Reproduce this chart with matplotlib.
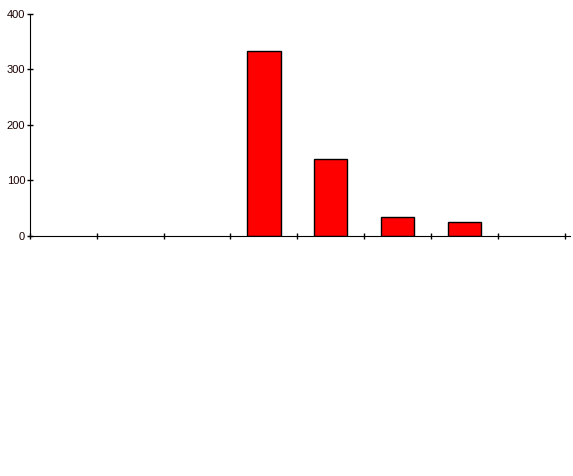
import matplotlib.pyplot as plt
import numpy as np

# eight categories, no labels shown on the x axis
categories = np.arange(8)
counts = [0, 0, 0, 332, 138, 34, 25, 0]
y_ticks = [0, 100, 200, 300, 400]

W, H = 573, 476
fig = plt.figure(figsize=(W / 100, H / 100), dpi=100)
ax = fig.add_axes([30 / W, (H - 236) / H, 540 / W, (236 - 13.7) / H])

# empty categories get no outline so the baseline stays clean
edge_widths = [1 if c > 0 else 0 for c in counts]
ax.bar(categories + 0.5, counts, width=0.5, color='#ff0000', edgecolor='black', linewidth=edge_widths)

ax.set_xlim(0, 8.08)
ax.set_ylim(0, 400)
ax.set_xticks(np.arange(9))
ax.set_xticklabels([])
ax.set_yticks(y_ticks)
ax.set_yticklabels([str(v) for v in y_ticks], fontfamily='Liberation Sans', fontsize=8, color='#1a0000')

ax.spines['top'].set_visible(False)
ax.spines['right'].set_visible(False)
ax.tick_params(direction='inout', length=5, width=1, pad=1)

fig.savefig('out.png', dpi=100)
